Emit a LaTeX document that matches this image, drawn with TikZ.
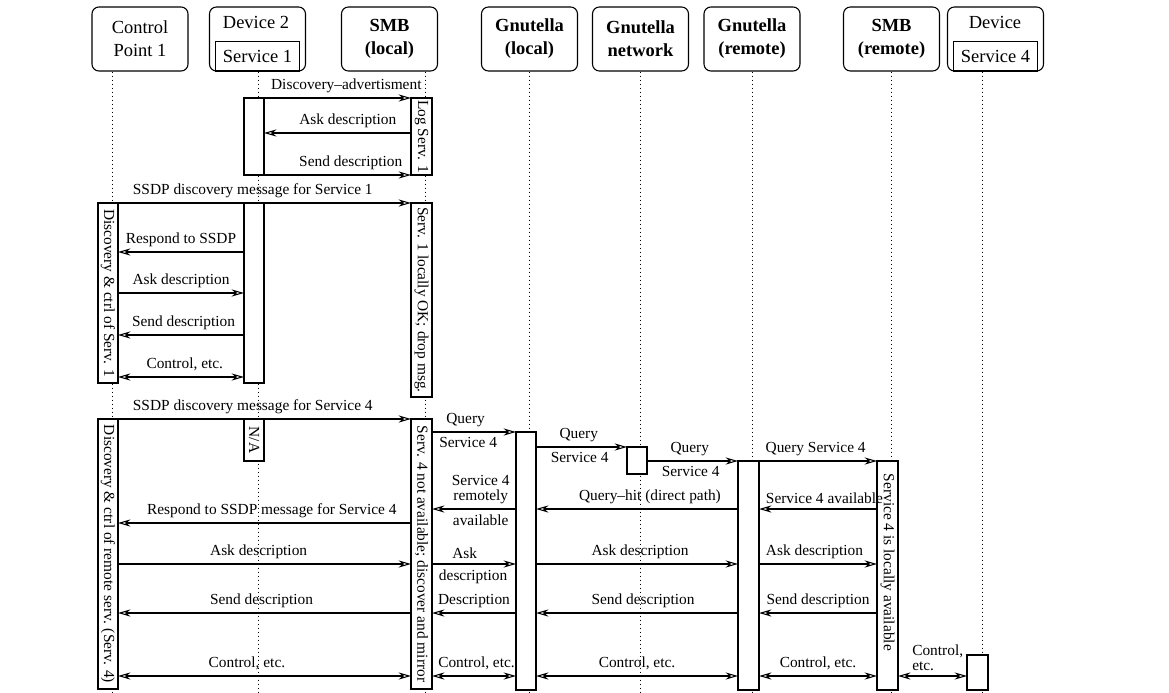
\documentclass[tikz,border=0pt]{standalone}
\usepackage{fontspec}
\setmainfont{Liberation Serif}
\usepackage{graphicx}
\usetikzlibrary{arrows.meta,fit}

\begin{document}
\begin{tikzpicture}[x=0.65pt, y=-0.65pt,
  head/.style={draw, line width=0.7pt, rounded corners=4.5pt, minimum width=62.4pt, minimum height=41.6pt,
    inner sep=0pt, align=center, font=\fontsize{12}{15}\selectfont},
  srv/.style={draw, line width=0.7pt, fill=white, anchor=south, minimum width=54.6pt, minimum height=18.9pt,
    inner sep=0pt, font=\fontsize{12}{15}\selectfont},
  life/.style={dotted, line width=0.6pt},
  act/.style={draw, fill=white, inner sep=0pt, outer sep=0pt, line width=0.7pt},
  msg/.style={-{Stealth[open, length=8pt, width=4.6pt, inset=2.4pt]}, line width=0.7pt},
  dmsg/.style={{Stealth[open, length=8pt, width=4.6pt, inset=2.4pt]}-{Stealth[open, length=8pt, width=4.6pt, inset=2.4pt]}, line width=0.7pt},
  lbl/.style={font=\fontsize{10}{9.5}\selectfont, align=center}]
\useasboundingbox (0,0) rectangle (1169,693);

% Participants
\node[head] (cp) at (140,39) {Control\\Point 1};
\node[head] (dev2) at (257.5,39) {};
\node[font=\fontsize{12}{15}\selectfont] (dev2t) at (256,22) {Device 2};
\node[srv] (svc1) at (dev2.south) {Service 1};
\node[head, font=\bfseries\fontsize{12}{15}\selectfont] (smbl) at (389.5,39) {SMB\\(local)};
\node[head, font=\bfseries\fontsize{12}{15}\selectfont] (gnl0) at (529.5,39) {Gnutella\\(local)};
\node[head, font=\bfseries\fontsize{12}{15}\selectfont] (gnn0) at (640.5,39) {Gnutella\\network};
\node[head, font=\bfseries\fontsize{12}{15}\selectfont] (gnr0) at (752,39) {Gnutella\\(remote)};
\node[head, font=\bfseries\fontsize{12}{15}\selectfont] (smbr0) at (891.5,39) {SMB\\(remote)};
\node[head] (dev) at (995.5,39) {};
\node[font=\fontsize{12}{15}\selectfont] (devt) at (995,22) {Device};
\node[srv] (svc4) at (dev.south) {Service 4};

% Lifelines
\draw[life] (cp.south -| 112,0) -- (112,693);
\draw[life] (svc1.south -| 258,0) -- (258,693);
\draw[life] (smbl.south -| 425,0) -- (425,693);
\draw[life] (gnl0.south -| 529,0) -- (529,693);
\draw[life] (gnn0.south -| 640,0) -- (640,693);
\draw[life] (gnr0.south -| 752,0) -- (752,693);
\draw[life] (smbr0.south -| 891,0) -- (891,693);
\draw[life] (svc4.south -| 982,0) -- (982,693);

% Service 1 advertisement
\node[act, fit={(244,98) (264,175)}] (d2a) {};
\node[act, fit={(411,98) (432,175)}] (smba) {\rotatebox{-90}{Log Serv. 1}};
\draw[msg] (d2a.north east) -- node[lbl, above, pos=.56] (t1) {Discovery--advertisment} (smba.north west);
\draw[msg] (smba.west |- 0,133) -- node[lbl, above, pos=.43] (t2) {Ask description} (d2a.east |- 0,133);
\draw[msg] (d2a.south east) -- node[lbl, above, pos=.59] (t3) {Send description} (smba.south west);

% Service 1 used locally
\node[act, fit={(98,203) (118,383)}] (cpa) {\rotatebox{-90}{Discovery \& ctrl of Serv. 1}};
\node[act, fit={(244,203) (264,383)}] (d2b) {};
\node[act, fit={(411,203) (432,397)}] (smbb) {\rotatebox{-90}{Serv. 1 locally OK; drop msg.}};
\draw[msg] (cpa.north east) -- node[lbl, above, pos=.46] (t4) {SSDP discovery message for Service 1} (smbb.north west);
\draw[msg] (d2b.west |- 0,252) -- node[lbl, above] (t5) {Respond to SSDP} (cpa.east |- 0,252);
\draw[msg] (cpa.east |- 0,293) -- node[lbl, above] (t6) {Ask description} (d2b.west |- 0,293);
\draw[msg] (d2b.west |- 0,335) -- node[lbl, above, pos=.48] (t7) {Send description} (cpa.east |- 0,335);
\draw[dmsg] (cpa.east |- 0,377) -- node[lbl, above, pos=.53] (t8) {Control, etc.} (d2b.west |- 0,377);

% Service 4 found through Gnutella
\node[act, fit={(98,419) (118,689)}] (cpb) {\rotatebox{-90}{Discovery \& ctrl of remote serv. (Serv. 4)}};
\node[act, fit={(244,419) (264,461)}] (na) {\rotatebox{-90}{N/A}};
\node[act, fit={(411,419) (432,689)}] (smbc) {\rotatebox{-90}{Serv. 4 not available; discover and mirror}};
\node[act, fit={(516,432) (536,690)}] (gnl) {};
\node[act, fit={(627,447) (647,474)}] (gnn) {};
\node[act, fit={(738,461) (759,690)}] (gnr) {};
\node[act, fit={(877,461) (898,690)}] (smbr) {\rotatebox{-90}{Service 4 is locally available\hspace{17pt}}};
\node[act, fit={(967,655) (988,690)}] (dev4) {};

\draw[msg] (cpb.north east) -- node[lbl, above, pos=.46] (t11) {SSDP discovery message for Service 4} (smbc.north west);
\draw[msg] (smbc.east |- gnl.north) -- node[lbl, above, pos=.4] (t12) {Query} node[lbl, below, pos=.43] (t13) {Service 4} (gnl.north west);
\draw[msg] (gnl.east |- gnn.north) -- node[lbl, above, pos=.47] (t14) {Query} node[lbl, below, pos=.48] (t15) {Service 4} (gnn.north west);
\draw[msg] (gnn.east |- gnr.north) -- node[lbl, above, pos=.47] (t16) {Query} node[lbl, below, pos=.48] (t17) {Service 4} (gnr.north west);
\draw[msg] (gnr.north east) -- node[lbl, above, pos=.48] (t18) {Query Service 4} (smbr.north west);

\draw[msg] (smbr.west |- 0,509) -- node[lbl, above, pos=.445] (t19) {Service 4 available} (gnr.east |- 0,509);
\draw[msg] (gnr.west |- 0,509) -- node[lbl, above, pos=.436] (t20) {Query--hit (direct path)} (gnl.east |- 0,509);
\draw[msg] (gnl.west |- 0,509) -- node[lbl, above, pos=.42] (t21) {Service 4\\remotely} node[lbl, below, pos=.42] (t22) {available} (smbc.east |- 0,509);
\draw[msg] (smbc.west |- 0,523) -- node[lbl, above, pos=.475] (t23) {Respond to SSDP message for Service 4} (cpb.east |- 0,523);

\draw[msg] (cpb.east |- 0,564) -- node[lbl, above, pos=.48] (t24) {Ask description} (smbc.west |- 0,564);
\draw[msg] (smbc.east |- 0,564) -- node[lbl, above, pos=.39] (t25) {Ask} node[lbl, below, pos=.49] (t26) {description} (gnl.west |- 0,564);
\draw[msg] (gnl.east |- 0,564) -- node[lbl, above, pos=.515] (t27) {Ask description} (gnr.west |- 0,564);
\draw[msg] (gnr.east |- 0,564) -- node[lbl, above, pos=.47] (t28) {Ask description} (smbr.west |- 0,564);

\draw[msg] (smbc.west |- 0,613) -- node[lbl, above, pos=.51] (t29) {Send description} (cpb.east |- 0,613);
\draw[msg] (gnl.west |- 0,613) -- node[lbl, above] (t30) {Description} (smbc.east |- 0,613);
\draw[msg] (gnr.west |- 0,613) -- node[lbl, above, pos=.47] (t31) {Send description} (gnl.east |- 0,613);
\draw[msg] (smbr.west |- 0,613) -- node[lbl, above] (t32) {Send description} (gnr.east |- 0,613);

\draw[dmsg] (cpb.east |- 0,676) -- node[lbl, above, pos=.44] (t33) {Control, etc.} (smbc.west |- 0,676);
\draw[dmsg] (smbc.east |- 0,676) -- node[lbl, above, pos=.53] (t34) {Control, etc.} (gnl.west |- 0,676);
\draw[dmsg] (gnl.east |- 0,676) -- node[lbl, above] (t35) {Control, etc.} (gnr.west |- 0,676);
\draw[dmsg] (gnr.east |- 0,676) -- node[lbl, above] (t36) {Control, etc.} (smbr.west |- 0,676);
\draw[dmsg] (smbr.east |- 0,676) -- node[lbl, above, align=left, pos=.575] (t37) {Control,\\etc.} (dev4.west |- 0,676);
\end{tikzpicture}
\end{document}
